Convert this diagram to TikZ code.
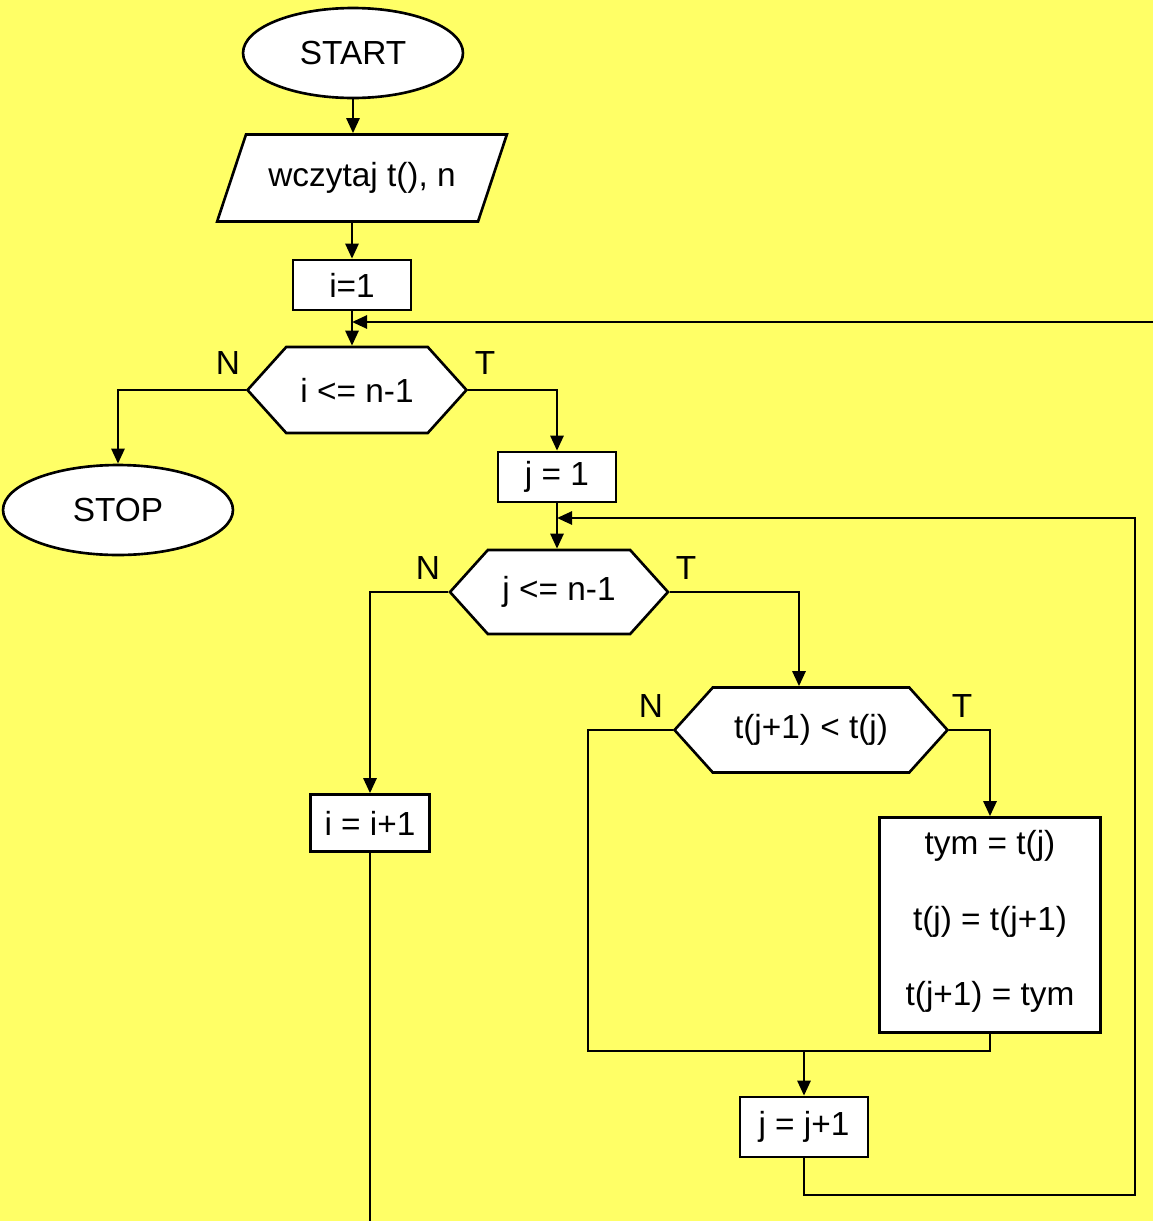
\documentclass[tikz,border=0pt]{standalone}
\usepackage{fontspec}
\setmainfont{Liberation Sans}
\usetikzlibrary{arrows.meta,shapes.geometric,shapes.symbols}
\definecolor{bgyellow}{RGB}{255,255,102}

\begin{document}
\begin{tikzpicture}[x=0.02cm,y=-0.02cm,>={Triangle[length=0.3cm,width=0.26cm]},
        line width=1.5pt,font=\fontsize{19}{22}\selectfont,
        termbox/.style={draw,fill=white,ellipse,minimum width=4.4cm,minimum height=1.8cm},
        iobox/.style={draw,fill=white,trapezium,trapezium left angle=60,
                      trapezium right angle=120,trapezium stretches=true,
                      minimum width=5.8cm,minimum height=1.74cm},
        opbox/.style={draw,fill=white,minimum width=2.36cm,minimum height=1cm},
        condbox/.style={draw,fill=white,signal,signal to=east and west,
                        signal pointer angle=96,minimum width=4.38cm,minimum height=1.72cm}]
        \fill[bgyellow] (0,0) rectangle (1153,1221);
        \useasboundingbox (0,0) rectangle (1153,1221);

        \node[termbox] (start) at (353,53) {START};
        \node[iobox] (read) at (362,178) {wczytaj t(), n};
        \node[opbox] (iinit) at (352,285) {i=1};
        \node[condbox] (icond) at (357,390) {i <= n-1};
        \node[termbox,minimum width=4.6cm] (stop) at (118,510) {STOP};
        \node[opbox] (jinit) at (557,477) {j = 1};
        \node[condbox,minimum width=4.36cm,minimum height=1.68cm] (jcond) at (559,592) {j <= n-1};
        \node[opbox,minimum width=2.38cm,minimum height=1.14cm] (iinc) at (370,823) {i = i+1};
        \node[condbox,minimum width=5.46cm,minimum height=1.7cm] (tcond) at (811,730) {t(j+1) < t(j)};
        \node[opbox,minimum width=4.42cm,minimum height=4.3cm,align=center,
              font=\fontsize{19}{43}\selectfont] (swap) at (990,925)
              {tym = t(j)\\t(j) = t(j+1)\\t(j+1) = tym\\[-35pt]};
        \node[opbox,minimum width=2.56cm,minimum height=1.2cm] (jinc) at (804,1127) {j = j+1};

        % branch labels
        \node (in) at (228,363) {N};
        \node (it) at (485,363) {T};
        \node (jn) at (428,568) {N};
        \node (jt) at (686,568) {T};
        \node (tn) at (651,706) {N};
        \node (tt) at (962,706) {T};

        % loop ends and bends
        \coordinate (oloop) at (1153,322);
        \coordinate (imerge) at (352,322);
        \coordinate (iend) at (370,1221);
        \coordinate (jmerge) at (557,518);
        \coordinate (iloop) at (1135,1195);
        \coordinate (nbend) at (588,1051);

        \draw[->] (start.south) -- (start.south |- read.north);
        \draw[->] (iinit.north |- read.south) -- (iinit.north);
        \draw[->] (iinit.south) -- (iinit.south |- icond.north);
        \draw[->] (oloop) -- (imerge);
        \draw[->] (icond.west) -| (stop.north);
        \draw[->] (icond.east) -| (jinit.north);
        \draw[->] (jinit.south) -- (jinit.south |- jcond.north);
        \draw[->] (jcond.west) -| (iinc.north);
        \draw (iinc.south) -- (iend);
        \draw[->] (jcond.east) -| ([xshift=-0.24cm]tcond.north);
        \draw[->] (tcond.east) -| (swap.north);
        \draw (tcond.west) -| (nbend) -| (swap.south);
        \draw[->] (jinc.north |- nbend) -- (jinc.north);
        \draw[->] (jinc.south) |- (iloop) |- (jmerge);
    \end{tikzpicture}
\end{document}
